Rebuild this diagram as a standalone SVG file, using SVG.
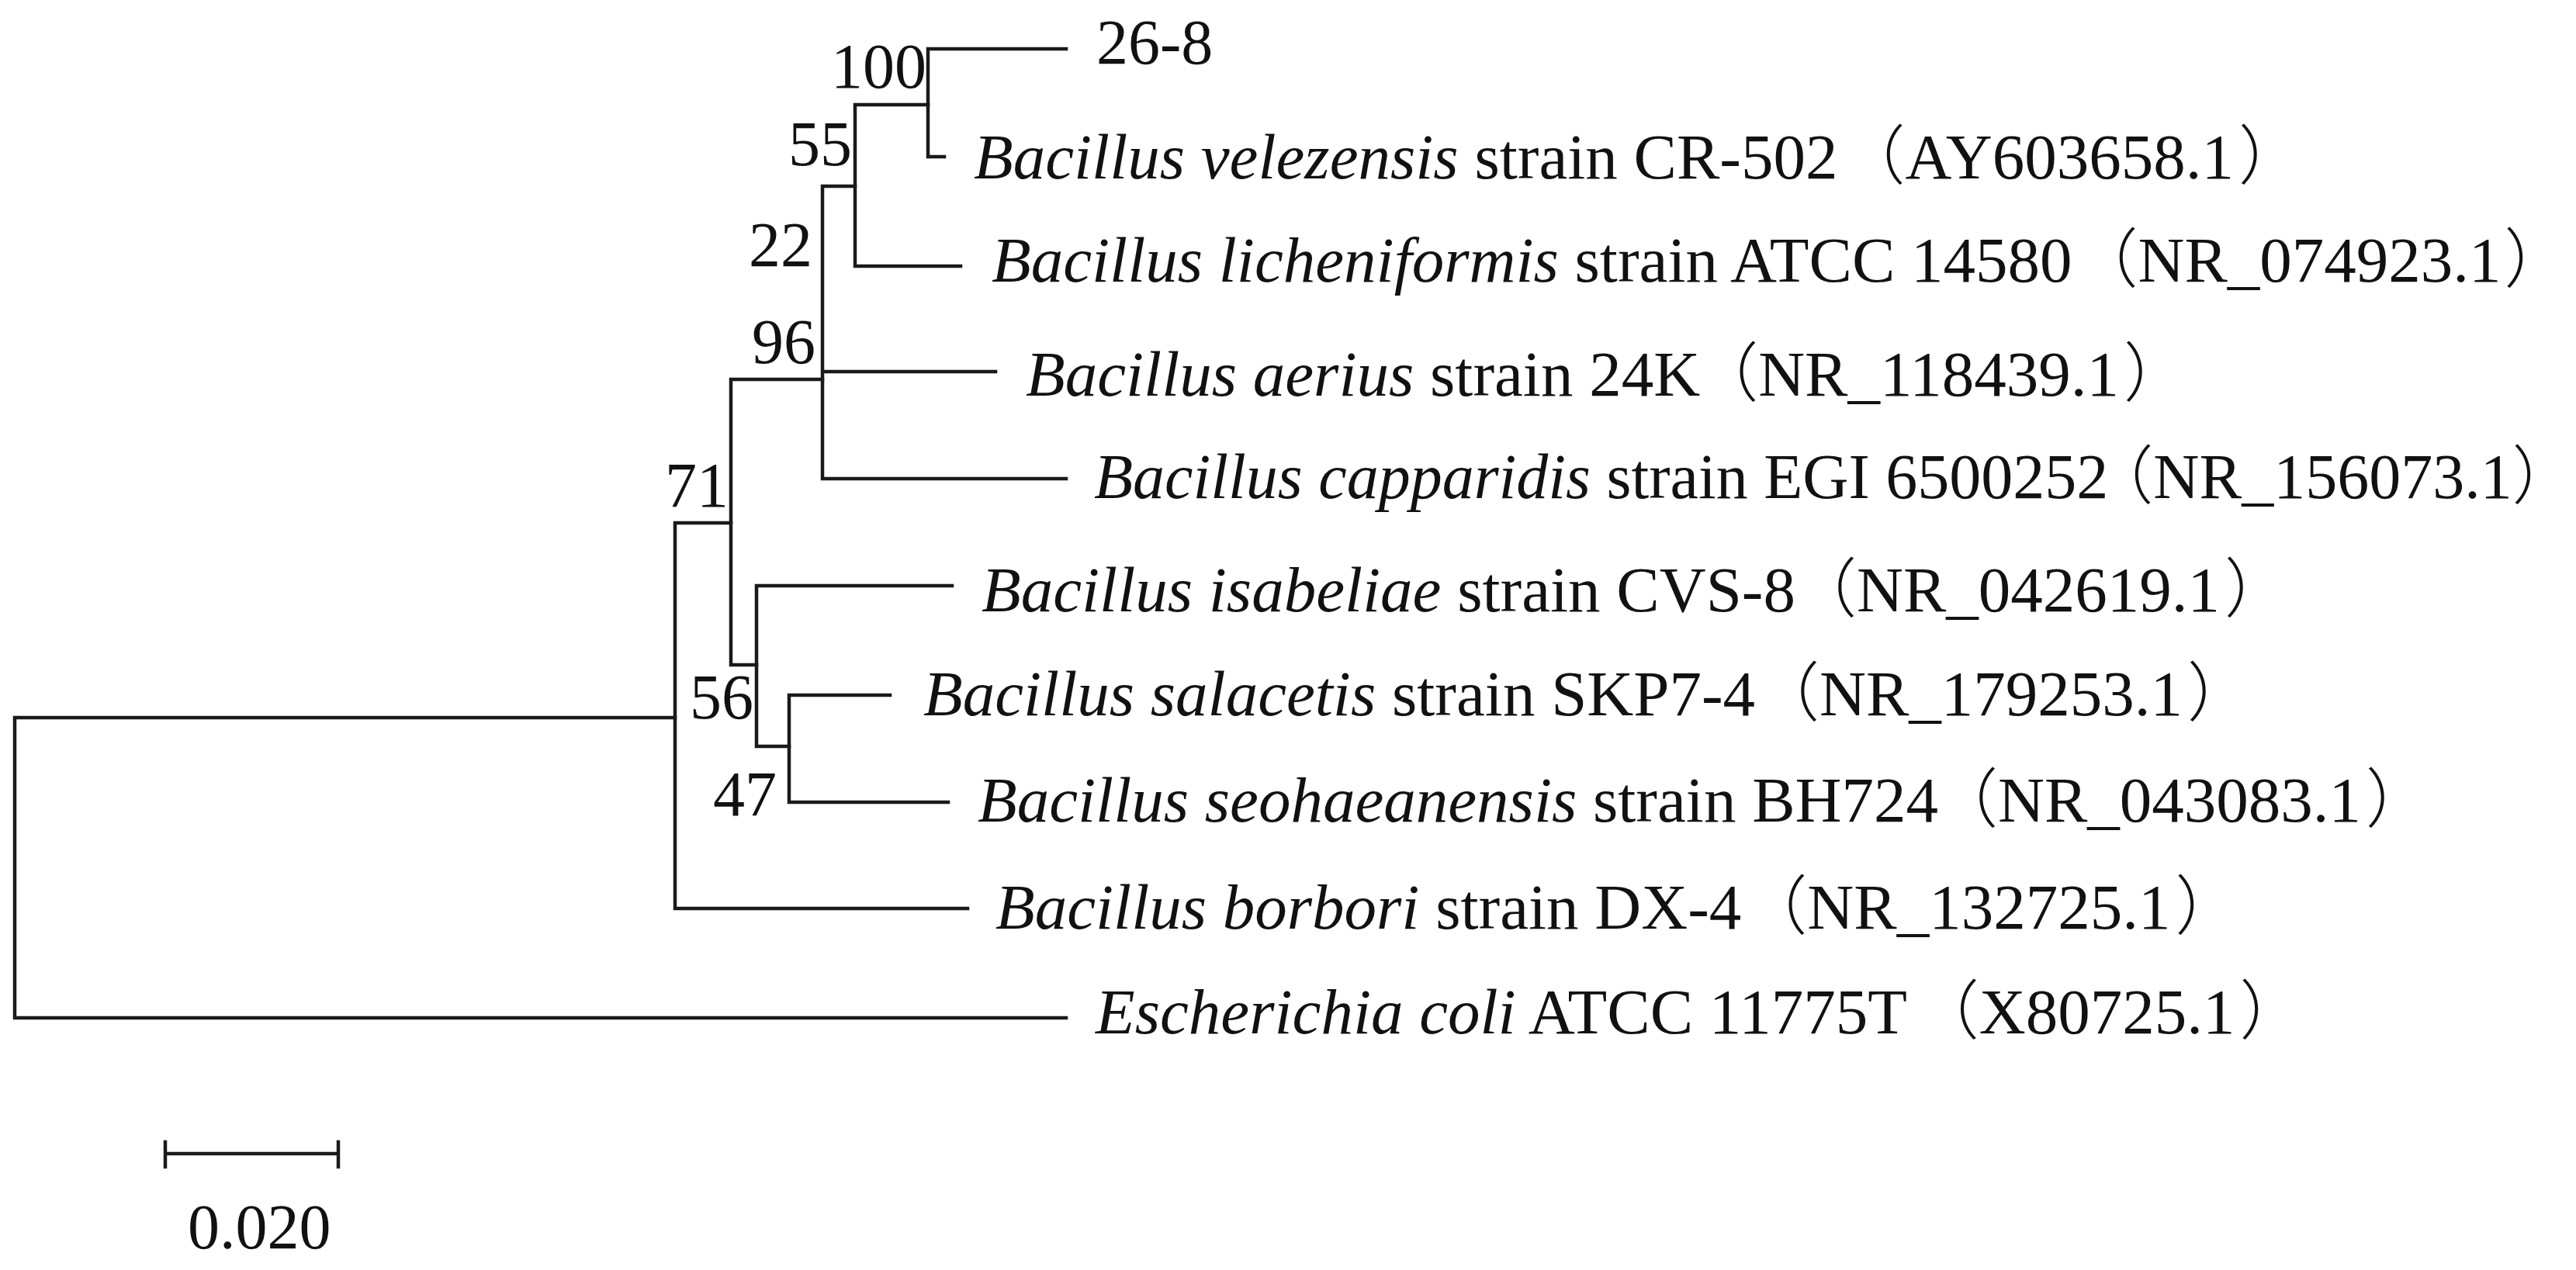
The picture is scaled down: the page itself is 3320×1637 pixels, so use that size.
<svg xmlns="http://www.w3.org/2000/svg" width="3320" height="1637" viewBox="0 0 3320 1637">
<style>
.br{fill:none;stroke:#1a1a1a;stroke-width:4.5;stroke-linecap:square}
.t{font-family:"Liberation Serif","Times New Roman","Noto Sans CJK SC",serif;font-size:82px;fill:#111}
.lf{font-size:83px}
.i{font-style:italic}
.p{font-family:"Noto Sans CJK SC",sans-serif;font-weight:300}
.bs{text-anchor:end}
</style>
<rect width="3320" height="1637" fill="#fff"/>
<g id="connectors">
<path class="br" d="M19,925V1312M19,925H870M19,1312H1374"/>
<path class="br" d="M870,674V1171M870,1171H1247M870,674H942"/>
<path class="br" d="M942,489V857M942,489H1060M942,857H975"/>
<path class="br" d="M1060,240V617M1060,479H1283M1060,617H1374M1060,240H1102"/>
<path class="br" d="M1102,135V343M1102,343H1238M1102,135H1196"/>
<path class="br" d="M1196,63V202M1196,63H1374M1196,202H1217"/>
<path class="br" d="M975,755V962M975,755H1227M975,962H1017"/>
<path class="br" d="M1017,896V1034M1017,896H1147M1017,1034H1222"/>
</g>
<g id="leaf-26-8"><text class="t" x="1413" y="82">26-8</text></g>
<g id="leaf-velezensis"><text class="t lf" x="1255" y="230"><tspan class="i">Bacillus velezensis</tspan> strain CR-502<tspan class="p" dx="4">（</tspan>AY603658.1<tspan class="p" dx="6">）</tspan></text></g>
<g id="leaf-licheniformis"><text class="t lf" x="1278" y="363"><tspan class="i">Bacillus licheniformis</tspan> strain ATCC 14580<tspan class="p" dx="2">（</tspan>NR_074923.1<tspan class="p" dx="4">）</tspan></text></g>
<g id="leaf-aerius"><text class="t lf" x="1322" y="510"><tspan class="i">Bacillus aerius</tspan> strain 24K<tspan class="p" dx="-8">（</tspan>NR_118439.1<tspan class="p" dx="6">）</tspan></text></g>
<g id="leaf-capparidis"><text class="t" x="1410" y="642"><tspan class="i">Bacillus capparidis</tspan> strain EGI 6500252<tspan class="p" dx="-24">（</tspan>NR_156073.1<tspan class="p">）</tspan></text></g>
<g id="leaf-isabeliae"><text class="t lf" x="1265" y="788"><tspan class="i">Bacillus isabeliae</tspan> strain CVS-8<tspan class="p" dx="-4">（</tspan>NR_042619.1<tspan class="p" dx="6">）</tspan></text></g>
<g id="leaf-salacetis"><text class="t lf" x="1190" y="922"><tspan class="i">Bacillus salacetis</tspan> strain SKP7-4<tspan class="p" dx="0">（</tspan>NR_179253.1<tspan class="p" dx="6">）</tspan></text></g>
<g id="leaf-seohaeanensis"><text class="t lf" x="1260" y="1059"><tspan class="i">Bacillus seohaeanensis</tspan> strain BH724<tspan class="p" dx="-6">（</tspan>NR_043083.1<tspan class="p" dx="6">）</tspan></text></g>
<g id="leaf-borbori"><text class="t lf" x="1283" y="1197"><tspan class="i">Bacillus borbori</tspan> strain DX-4<tspan class="p" dx="2">（</tspan>NR_132725.1<tspan class="p" dx="6">）</tspan></text></g>
<g id="leaf-ecoli"><text class="t lf" x="1412" y="1332"><tspan class="i">Escherichia coli</tspan> ATCC 11775T<tspan class="p" dx="10">（</tspan>X80725.1<tspan class="p" dx="6">）</tspan></text></g>
<g id="node-100"><text class="t bs" x="1194" y="113">100</text></g>
<g id="node-55"><text class="t bs" x="1098" y="213">55</text></g>
<g id="node-22"><text class="t bs" x="1047" y="343">22</text></g>
<g id="node-96"><text class="t bs" x="1051" y="468">96</text></g>
<g id="node-71"><text class="t bs" x="939" y="653">71</text></g>
<g id="node-56"><text class="t bs" x="971" y="926">56</text></g>
<g id="node-47"><text class="t bs" x="1001" y="1051">47</text></g>
<g id="scale-bar">
<path class="br" d="M213,1487H436M213,1472V1504M436,1472V1504"/>
<text class="t" x="242" y="1609">0.020</text>
</g>
</svg>
